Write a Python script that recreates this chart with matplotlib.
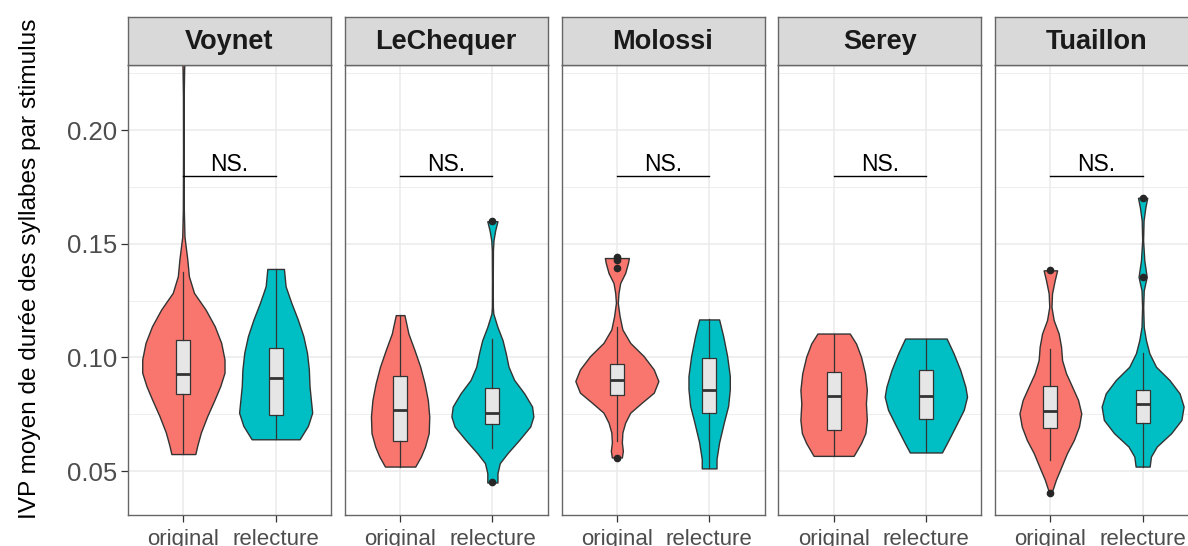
import matplotlib
matplotlib.use("Agg")
import matplotlib.pyplot as plt

plt.rcParams['font.family'] = ['Liberation Sans', 'DejaVu Sans']

speakers = ["Voynet", "LeChequer", "Molossi", "Serey", "Tuaillon"]
conditions = ["original", "relecture"]
colors = ["#F8766D", "#00BFC4"]

# violin outlines: (IVP value, half width in x units)
voynet_original = [(0.0575, 0.13), (0.0611, 0.15), (0.0670, 0.19), (0.0743, 0.26),
                   (0.0816, 0.34), (0.0874, 0.40), (0.0933, 0.446), (0.0991, 0.446),
                   (0.1064, 0.41), (0.1137, 0.34), (0.1211, 0.24), (0.1284, 0.115),
                   (0.1357, 0.06), (0.1430, 0.043), (0.1532, 0.012), (0.165, 0.005),
                   (0.19, 0.003), (0.215, 0.004), (0.226, 0.008), (0.232, 0.012),
                   (0.236, 0.0)]
voynet_relecture = [(0.0640, 0.26), (0.0699, 0.35), (0.0757, 0.396), (0.0801, 0.385),
                    (0.0874, 0.367), (0.0947, 0.36), (0.1020, 0.34), (0.1094, 0.30),
                    (0.1167, 0.24), (0.1240, 0.17), (0.1313, 0.108), (0.1389, 0.09)]
lechequer_original = [(0.0520, 0.164), (0.0564, 0.225), (0.0608, 0.27), (0.0667, 0.31),
                      (0.0740, 0.316), (0.0813, 0.30), (0.0886, 0.265), (0.0959, 0.218),
                      (0.1032, 0.156), (0.1105, 0.09), (0.1186, 0.047)]
lechequer_relecture = [(0.0450, 0.055), (0.0491, 0.055), (0.0535, 0.08), (0.0579, 0.164),
                       (0.0637, 0.29), (0.0696, 0.41), (0.0740, 0.444), (0.0784, 0.43),
                       (0.0842, 0.345), (0.0901, 0.236), (0.0959, 0.175), (0.1018, 0.145),
                       (0.1076, 0.11), (0.1134, 0.055), (0.1193, 0.01), (0.1222, 0.005),
                       (0.1339, 0.004), (0.1471, 0.006), (0.1515, 0.012), (0.1558, 0.03),
                       (0.1599, 0.055)]
molossi_original = [(0.0560, 0.054), (0.0589, 0.065), (0.0626, 0.054), (0.0670, 0.06),
                    (0.0713, 0.09), (0.0757, 0.145), (0.0801, 0.27), (0.0845, 0.40),
                    (0.0896, 0.45), (0.0947, 0.40), (0.1006, 0.29), (0.1064, 0.145),
                    (0.1123, 0.06), (0.1181, 0.03), (0.1240, 0.01), (0.1284, 0.018),
                    (0.1327, 0.036), (0.1371, 0.09), (0.1415, 0.12), (0.1437, 0.13)]
molossi_relecture = [(0.0512, 0.08), (0.0553, 0.08), (0.0626, 0.108), (0.0713, 0.159),
                     (0.0787, 0.206), (0.0860, 0.224), (0.0918, 0.224), (0.1006, 0.195),
                     (0.1094, 0.152), (0.1167, 0.108)]
serey_original = [(0.0567, 0.217), (0.0623, 0.297), (0.0667, 0.344), (0.0725, 0.36),
                  (0.0798, 0.35), (0.0857, 0.36), (0.0930, 0.34), (0.1003, 0.297),
                  (0.1061, 0.243), (0.1105, 0.175)]
serey_relecture = [(0.0582, 0.174), (0.0623, 0.228), (0.0696, 0.32), (0.0769, 0.41),
                   (0.0827, 0.446), (0.0871, 0.428), (0.0944, 0.373), (0.1018, 0.30),
                   (0.1083, 0.225)]
tuaillon_original = [(0.0403, 0.01), (0.0425, 0.03), (0.0462, 0.06), (0.0520, 0.12),
                     (0.0579, 0.18), (0.0637, 0.255), (0.0696, 0.31), (0.0754, 0.335),
                     (0.0813, 0.30), (0.0871, 0.236), (0.0930, 0.17), (0.0988, 0.127),
                     (0.1047, 0.116), (0.1105, 0.09), (0.1164, 0.036), (0.1222, 0.012),
                     (0.1281, 0.018), (0.1339, 0.047), (0.1383, 0.073)]
tuaillon_relecture = [(0.0520, 0.076), (0.0564, 0.09), (0.0608, 0.153), (0.0667, 0.31),
                      (0.0725, 0.42), (0.0784, 0.444), (0.0842, 0.40), (0.0901, 0.29),
                      (0.0959, 0.145), (0.1018, 0.073), (0.1076, 0.036), (0.1134, 0.012),
                      (0.1222, 0.006), (0.1295, 0.012), (0.1354, 0.044), (0.1427, 0.018),
                      (0.1515, 0.005), (0.1602, 0.01), (0.1661, 0.03), (0.1702, 0.05)]

violins = [
    [voynet_original, voynet_relecture],
    [lechequer_original, lechequer_relecture],
    [molossi_original, molossi_relecture],
    [serey_original, serey_relecture],
    [tuaillon_original, tuaillon_relecture],
]

# box plot statistics per speaker: [original, relecture]
box_q1 = [[0.0841, 0.0746], [0.0632, 0.0708], [0.0833, 0.0754], [0.0680, 0.0730], [0.0689, 0.0711]]
box_med = [[0.0925, 0.0908], [0.0769, 0.0754], [0.0901, 0.0857], [0.0830, 0.0830], [0.0765, 0.0795]]
box_q3 = [[0.1075, 0.1042], [0.0920, 0.0864], [0.0972, 0.0997], [0.0936, 0.0944], [0.0874, 0.0857]]
whisk_lo = [[0.0575, 0.0640], [0.0520, 0.0601], [0.0633, 0.0512], [0.0567, 0.0582], [0.0550, 0.0520]]
whisk_hi = [[0.1374, 0.1389], [0.1186, 0.1083], [0.1134, 0.1167], [0.1105, 0.1083], [0.1039, 0.1020]]
outliers = [
    [[0.236], []],
    [[], [0.1599, 0.0450]],
    [[0.1442, 0.1427, 0.1393, 0.0557], []],
    [[], []],
    [[0.1383, 0.0403], [0.1702, 0.1354]],
]

signif_label = "NS."
signif_y = 0.18

W, H = 1188, 546
fig = plt.figure(figsize=(W / 100, H / 100), dpi=100)

panel_top, panel_bot = 65, 515
strip_top = 17
panel_w = 203
panel_step = 216.75
first_left = 128
line_col = "#333333"
border_col = "#666666"

for i, name in enumerate(speakers):
    left = (first_left + i * panel_step) / W
    ax = fig.add_axes([left, 1 - panel_bot / H, panel_w / W, (panel_bot - panel_top) / H])
    ax.set_xlim(0.4, 2.6)
    ax.set_ylim(0.0307, 0.2286)
    ax.set_axisbelow(True)
    ax.set_yticks([0.05, 0.10, 0.15, 0.20])
    ax.set_yticks([0.075, 0.125, 0.175, 0.225], minor=True)
    ax.set_xticks([1, 2])
    ax.grid(True, which="major", color="#EBEBEB", lw=1.1)
    ax.grid(True, which="minor", axis="y", color="#EBEBEB", lw=0.6)
    ax.set_xticklabels(conditions)
    ax.tick_params(axis="x", length=5, width=0.9, color=line_col, labelsize=16,
                   labelcolor="#4D4D4D", pad=5)
    ax.tick_params(axis="y", which="minor", length=0)
    if i == 0:
        ax.set_yticklabels(["0.05", "0.10", "0.15", "0.20"])
        ax.tick_params(axis="y", length=5, width=0.9, color=line_col, labelsize=18.5,
                       labelcolor="#4D4D4D", pad=3)
    else:
        ax.tick_params(axis="y", length=0, labelleft=False)
    for sp in ax.spines.values():
        sp.set_color(border_col)
        sp.set_linewidth(1.0)

    for j in range(2):
        pos = j + 1
        prof = violins[i][j]
        ys = [p[0] for p in prof]
        hw = [p[1] for p in prof]
        ax.fill_betweenx(ys, [pos - w for w in hw], [pos + w for w in hw],
                         facecolor=colors[j], edgecolor=line_col, lw=1.0, zorder=2)
        stats = [dict(q1=box_q1[i][j], med=box_med[i][j], q3=box_q3[i][j],
                      whislo=whisk_lo[i][j], whishi=whisk_hi[i][j],
                      fliers=outliers[i][j])]
        ax.bxp(stats, positions=[pos], widths=0.15, patch_artist=True,
               showcaps=False, manage_ticks=False,
               boxprops=dict(facecolor="#E6E6E6", edgecolor=line_col, lw=0.9),
               whiskerprops=dict(color=line_col, lw=0.9),
               medianprops=dict(color=line_col, lw=2.0),
               flierprops=dict(marker="o", markersize=4.5, markerfacecolor="#262626",
                               markeredgecolor="#262626"),
               zorder=3)

    ax.plot([1, 2], [signif_y, signif_y], color="black", lw=1.0, zorder=4)
    ax.text(1.5, signif_y + 0.0018, signif_label, ha="center", va="baseline",
            fontsize=16.5, color="black", zorder=4)

    sax = fig.add_axes([left, 1 - panel_top / H, panel_w / W, (panel_top - strip_top) / H])
    sax.set_facecolor("#D9D9D9")
    sax.set_xticks([])
    sax.set_yticks([])
    for sp in sax.spines.values():
        sp.set_color(border_col)
        sp.set_linewidth(1.0)
    sax.text(0.5, 0.47, name, transform=sax.transAxes, ha="center", va="center",
             fontsize=19.5, fontweight="bold", color="#1A1A1A")

fig.text(30 / W, 1 - 269 / H, "IVP moyen de durée des syllabes par stimulus",
         rotation=90, ha="center", va="center", fontsize=17.6, color="black")

fig.savefig("out.png", dpi=100)
